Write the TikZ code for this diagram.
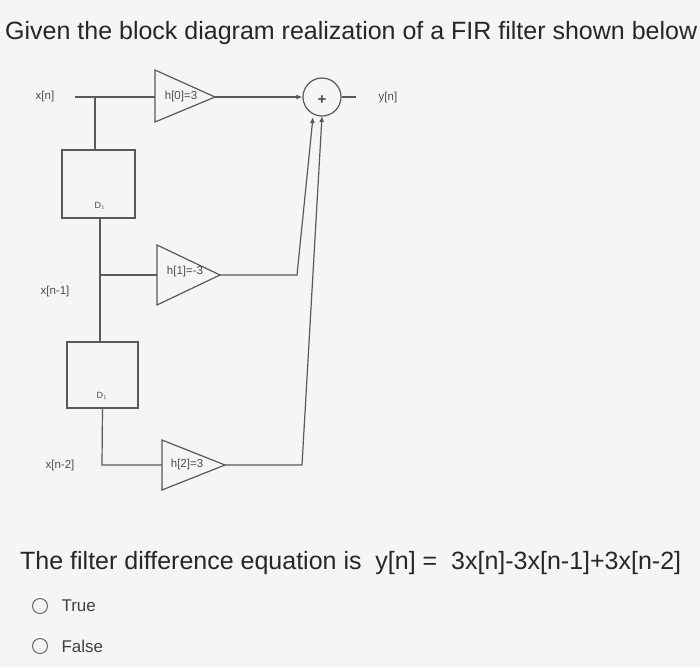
\documentclass[tikz,border=0pt]{standalone}
\usepackage{fontspec}
\setmainfont{Liberation Sans}
\usetikzlibrary{arrows.meta}
\begin{document}
\begin{tikzpicture}[x=1pt,y=-1pt,
  ln/.style={draw=black!65,line width=1.2pt},
  box/.style={ln,fill=none},
  amp/.style={ln},
  lab/.style={text=black!70,font=\fontsize{11.5}{13}\selectfont},
  big/.style={font=\fontsize{25}{29}\selectfont,text=black!85,anchor=west},
  arr/.style={ln,-{Latex[length=6pt,width=5pt]}}]
\fill[black!4] (0,0) rectangle (700,667);
\useasboundingbox (0,0) rectangle (700,667);
\node[big,inner sep=0] (title) at (5,33) {Given the block diagram realization of a FIR filter shown below};
% labels
\node[lab] (xn) at (45,97) {x[n]};
\node[lab] (xn1) at (55,292) {x[n-1]};
\node[lab] (xn2) at (60,466) {x[n-2]};
\node[lab] (yn) at (388,98) {y[n]};
% boxes
\node[box,minimum width=73pt,minimum height=68pt,inner sep=0] (d1) at (98.5,184) {};
\node[lab,font=\fontsize{9}{10}\selectfont] (d1l) at (100,206) {D$_1$};
\node[box,minimum width=71pt,minimum height=66pt,inner sep=0] (d2) at (102.5,375) {};
\node[lab,font=\fontsize{9}{10}\selectfont] (d2l) at (102,396) {D$_1$};
% amplifiers
\coordinate (a0l) at (155,97); \coordinate (a0r) at (215,97);
\draw[amp] (155,70) -- (215,97) -- (155,122) -- cycle;
\node[lab] (h0) at (181,97) {h[0]=3};
\coordinate (a1l) at (157,275); \coordinate (a1r) at (220,275);
\draw[amp] (157,245) -- (220,275) -- (157,305) -- cycle;
\node[lab] (h1) at (185,272) {h[1]=-3};
\coordinate (a2l) at (162,465); \coordinate (a2r) at (225,465);
\draw[amp] (162,440) -- (225,465) -- (162,490) -- cycle;
\node[lab] (h2) at (187,465) {h[2]=3};
% adder
\node[ln,circle,minimum size=38pt,inner sep=0] (sum) at (322,97) {};
\node[lab,font=\fontsize{15}{15}\selectfont\bfseries] (plus) at (322,100) {+};
% wiring
\coordinate (j0) at (95,97);
\coordinate (j1) at (100,275);
\coordinate (s) at (75,97);
\draw[ln] (s) -- (a0l);
\draw[ln] (j0) -- (d1.north -| j0);
\draw[ln] (d1.south -| j1) -- (d2.north -| j1);
\draw[ln] (j1) -- (a1l);
\draw[ln] (d2.south) -- (102,465) -- (a2l);
\draw[arr] (a0r) -- (sum.west);
\draw[arr] (a1r) -- (297,275) -- (313,117);
\draw[arr] (a2r) -- (302,465) -- (322,116);
\coordinate (o) at (356,97);
\draw[ln] (sum.east) -- (o);
% question
\node[big,inner sep=0] (q) at (20,563) {The filter difference equation is \ y[n] = \ 3x[n]-3x[n-1]+3x[n-2]};
\node[draw=black!60,line width=1pt,circle,minimum size=15pt,inner sep=0] (r1) at (40,606) {};
\node[anchor=west,font=\fontsize{17}{20}\selectfont,text=black!75] (t) at (58,606) {True};
\node[draw=black!60,line width=1pt,circle,minimum size=15pt,inner sep=0] (r2) at (40,646) {};
\node[anchor=west,font=\fontsize{17}{20}\selectfont,text=black!75] (f) at (58,646) {False};
\end{tikzpicture}
\end{document}
